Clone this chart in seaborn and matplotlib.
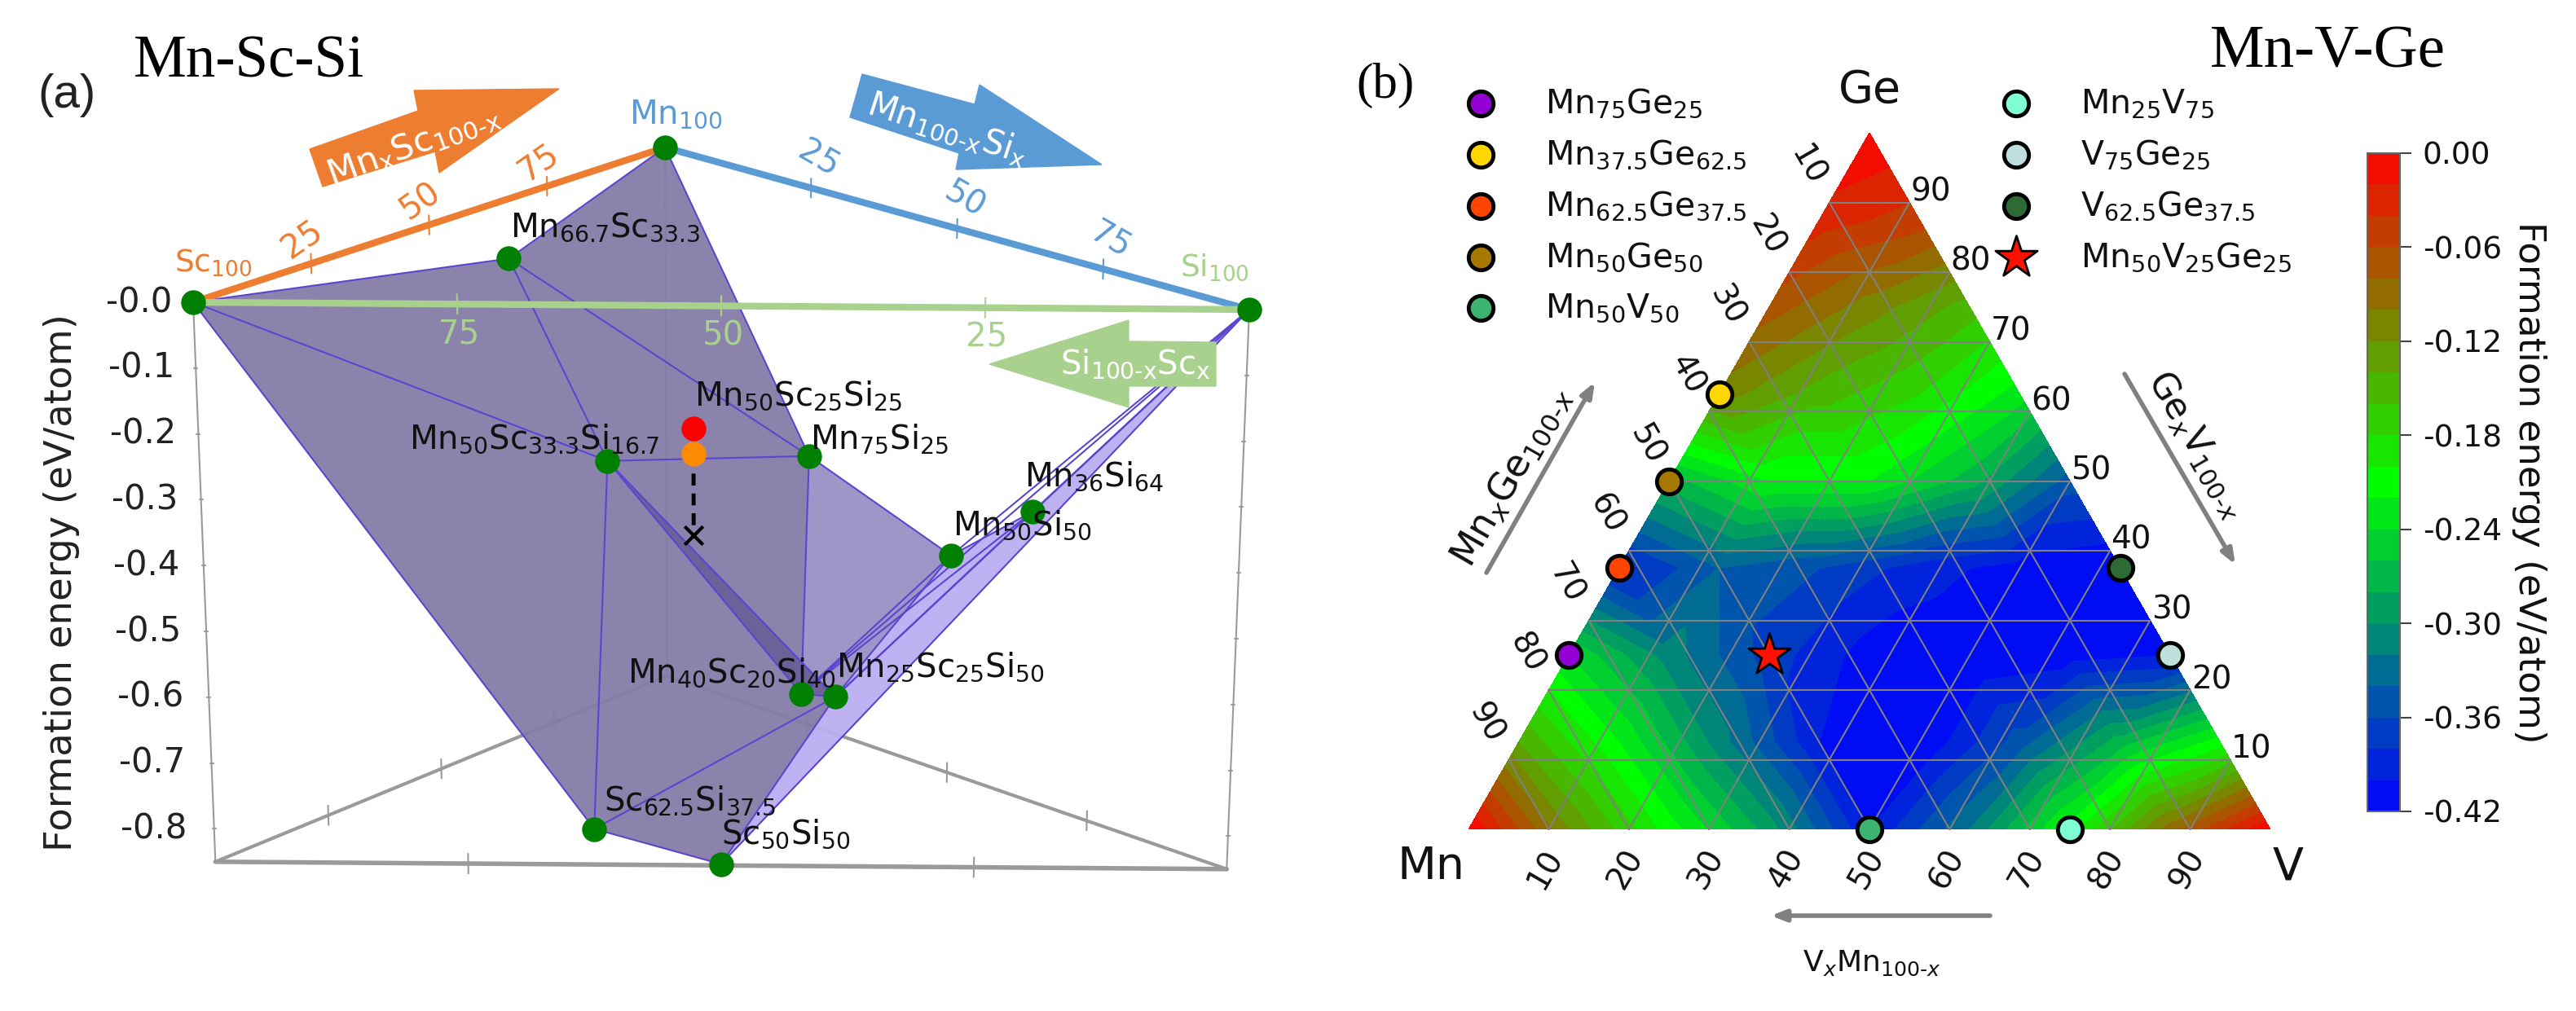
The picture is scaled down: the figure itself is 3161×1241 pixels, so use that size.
#Formation energy of Mn-Sc-Si (convex hull) and Mn-V-Ge (ternary map)
import numpy as np
import pandas as pd
import matplotlib.pyplot as plt
import seaborn as sns
from matplotlib.colors import LinearSegmentedColormap
from matplotlib.patches import Polygon

# panel a: hull points, composition in percent and energy in eV/atom
point_labels = ['', '', '', r'Mn$_{66.7}$Sc$_{33.3}$', r'Mn$_{75}$Si$_{25}$', r'Mn$_{50}$Sc$_{33.3}$Si$_{16.7}$',
                r'Mn$_{36}$Si$_{64}$', r'Mn$_{50}$Si$_{50}$', r'Mn$_{40}$Sc$_{20}$Si$_{40}$',
                r'Mn$_{25}$Sc$_{25}$Si$_{50}$', r'Sc$_{62.5}$Si$_{37.5}$', r'Sc$_{50}$Si$_{50}$']
point_mn = [0, 100, 0, 66.7, 75, 50, 36, 50, 40, 25, 0, 0]
point_sc = [100, 0, 0, 33.3, 0, 33.3, 0, 0, 20, 25, 62.5, 50]
point_si = [0, 0, 100, 0, 25, 16.7, 64, 50, 40, 50, 37.5, 50]
point_e = [0, 0, 0, -0.094, -0.425, -0.367, -0.404, -0.511, -0.70, -0.662, -0.796, -0.848]
# Mn50Sc25Si25: the two DFT results and the hull value below them
quat_comp = [50, 25, 25]
quat_e = [-0.315, -0.355, -0.482]
energy_ticks = [0, -0.1, -0.2, -0.3, -0.4, -0.5, -0.6, -0.7, -0.8]
edge_ticks = [25, 50, 75]

# panel b: energy on the 12.5 % grid, one row per Ge level, V rising left to right
e_ge0 = [0, -0.12, -0.21, -0.29, -0.40, -0.32, -0.21, -0.09, 0]
e_ge12 = [-0.14, -0.22, -0.31, -0.40, -0.42, -0.35, -0.27, -0.21]
e_ge25 = [-0.24, -0.31, -0.37, -0.41, -0.42, -0.41, -0.40]
e_ge37 = [-0.39, -0.34, -0.36, -0.39, -0.41, -0.42]
e_ge50 = [-0.27, -0.22, -0.22, -0.27, -0.35]
e_ge62 = [-0.11, -0.15, -0.18, -0.23]
e_ge75 = [-0.07, -0.11, -0.15]
e_ge87 = [-0.03, -0.05]
e_ge100 = [0]
ternary_ticks = [10, 20, 30, 40, 50, 60, 70, 80, 90]
cbar_ticks = [0, -0.06, -0.12, -0.18, -0.24, -0.30, -0.36, -0.42]

legend_left = [r'Mn$_{75}$Ge$_{25}$', r'Mn$_{37.5}$Ge$_{62.5}$', r'Mn$_{62.5}$Ge$_{37.5}$', r'Mn$_{50}$Ge$_{50}$', r'Mn$_{50}$V$_{50}$']
legend_right = [r'Mn$_{25}$V$_{75}$', r'V$_{75}$Ge$_{25}$', r'V$_{62.5}$Ge$_{37.5}$', r'Mn$_{50}$V$_{25}$Ge$_{25}$']
comp_v = [0, 0, 0, 0, 50, 75, 75, 62.5, 25]
comp_ge = [25, 62.5, 37.5, 50, 0, 0, 25, 37.5, 25]
comp_colors = ['#9400D3', '#FFD700', '#FF4500', '#A67800', '#3CB371', '#7FFFD4', '#BFDFDD', '#2E6B34', '#FF1000']

sns.set_theme(style="white")
plt.rcParams['font.family'] = ['DejaVu Sans']
plt.rcParams['mathtext.default'] = 'regular'
plt.rcParams['axes.unicode_minus'] = False

fig = plt.figure(figsize=(31.61, 12.41), dpi=100)
ax = fig.add_axes([0, 0, 1, 1])


def project(mn, sc, si, e):
    # view of the 3D hull, slight perspective towards the floor
    x = (816 * mn + 237 * sc + 1533 * si) / 100
    y = (181 * mn + 371 * sc + 380 * si) / 100
    x = 880 + (x - 880) * (1 + 0.05 * e)
    return x, y - e * (808 - 45 * mn / 100)


ORANGE = '#ED7D31'
BLUE = '#5B9BD5'
LIGHTGREEN = '#A9D18E'
LINE = '#5B45D0'
FRAME = '#9A9A9A'

# floor and uprights of the box
corner_comps = [(100, 0, 0), (0, 100, 0), (0, 0, 100)]
corners = [project(*c, -0.85) for c in corner_comps]
ax.plot([corners[1][0], corners[0][0]], [corners[1][1], corners[0][1]], color=FRAME, lw=3, zorder=1)
ax.plot([corners[0][0], corners[2][0]], [corners[0][1], corners[2][1]], color=FRAME, lw=3, zorder=1)
ax.plot([corners[1][0], corners[2][0]], [corners[1][1], corners[2][1]], color=FRAME, lw=4, zorder=1)
for c in corner_comps:
    top = project(*c, 0)
    bottom = project(*c, -0.85)
    ax.plot([top[0], bottom[0]], [top[1], bottom[1]], color=FRAME, lw=1.5, zorder=1)
    if c[0] == 0:
        for e in energy_ticks[1:]:
            t = project(*c, e)
            ax.plot([t[0] - 2, t[0] + 2], [t[1], t[1]], color=FRAME, lw=1.5, zorder=1)
for p, q in [(corner_comps[1], corner_comps[0]), (corner_comps[0], corner_comps[2]), (corner_comps[1], corner_comps[2])]:
    for t in edge_ticks:
        c = [(1 - t / 100) * u + t / 100 * v for u, v in zip(p, q)]
        lo = project(*c, -0.835)
        hi = project(*c, -0.865)
        ax.plot([lo[0], hi[0]], [lo[1], hi[1]], color=FRAME, lw=1.5, zorder=1)

px = np.array([project(m, s, i, e) for m, s, i, e in zip(point_mn, point_sc, point_si, point_e)])

faces = [([0, 3, 1, 4, 8, 9, 11, 10], '#857CA8'), ([4, 7, 9, 8], '#9A8FC4'), ([2, 6, 7, 9, 11], '#BBAEF2'), ([5, 8, 9], '#6A6198')]
for idx, col in faces:
    ax.add_patch(Polygon(px[idx], closed=True, facecolor=col, edgecolor='none', alpha=0.95, zorder=2))
edges = [(0, 3), (3, 1), (1, 4), (0, 5), (3, 5), (3, 4), (5, 4), (5, 8), (5, 9), (5, 10), (4, 8), (4, 7), (7, 9), (7, 8),
         (6, 7), (6, 8), (6, 9), (2, 6), (2, 9), (2, 11), (0, 10), (10, 11), (10, 9), (9, 11), (8, 9), (2, 7), (2, 8)]
for a, b in edges:
    ax.plot(px[[a, b], 0], px[[a, b], 1], color=LINE, lw=1.5, zorder=3)

# edges of the composition triangle at zero energy
sides = [((0, 100, 0), (100, 0, 0), ORANGE), ((100, 0, 0), (0, 0, 100), BLUE), ((0, 0, 100), (0, 100, 0), LIGHTGREEN)]
for p, q, col in sides:
    a = project(*p, 0)
    b = project(*q, 0)
    ax.plot([a[0], b[0]], [a[1], b[1]], color=col, lw=6, solid_capstyle='butt', zorder=4)
    for t in edge_ticks:
        c = [(1 - t / 100) * u + t / 100 * v for u, v in zip(p, q)]
        lo = project(*c, 0.015)
        hi = project(*c, -0.015)
        ax.plot([lo[0], hi[0]], [lo[1], hi[1]], color=col, lw=1.5, zorder=4)

for t in edge_ticks:
    c = project(t, 100 - t, 0, 0)
    ax.text(c[0] - 10, c[1] - 29, str(t), color=ORANGE, fontsize=29, rotation=35, ha='center', va='center')
    c = project(100 - t, 0, t, 0)
    ax.text(c[0] + 9, c[1] - 35, str(t), color=BLUE, fontsize=29, rotation=-30, ha='center', va='center')
    c = project(0, t, 100 - t, 0)
    ax.text(c[0] + 2, c[1] + 37, str(t), color=LIGHTGREEN, fontsize=29, ha='center', va='center')

ax.text(262, 322, r'Sc$_{100}$', color=ORANGE, fontsize=27, ha='center', va='center')
ax.text(829, 140, r'Mn$_{100}$', color=BLUE, fontsize=29, ha='center', va='center')
ax.text(1490, 328, r'Si$_{100}$', color=LIGHTGREEN, fontsize=27, ha='center', va='center')

# big arrows
orange_arrow = [(380, 183), (513, 136), (508, 111), (686, 109), (539, 212), (534, 186), (396, 229)]
blue_arrow = [(1058, 91), (1196, 128), (1202, 104), (1352, 202), (1173, 208), (1177, 188), (1043, 144)]
green_arrow = [(1214, 447), (1385, 393), (1385, 419), (1492, 420), (1492, 474), (1385, 474), (1385, 500)]
ax.add_patch(Polygon(orange_arrow, closed=True, color=ORANGE, zorder=2))
ax.add_patch(Polygon(blue_arrow, closed=True, color=BLUE, zorder=2))
ax.add_patch(Polygon(green_arrow, closed=True, color=LIGHTGREEN, zorder=5))
ax.text(507, 178, r'Mn$_{x}$Sc$_{100\text{-}x}$', color='white', fontsize=31, rotation=20, ha='center', va='center', zorder=6)
ax.text(1163, 158, r'Mn$_{100\text{-}x}$Si$_{x}$', color='white', fontsize=30, rotation=-18, ha='center', va='center', zorder=6)
ax.text(1393, 447, r'Si$_{100\text{-}x}$Sc$_{x}$', color='white', fontsize=29, ha='center', va='center', zorder=6)

# energy axis labels
for e in energy_ticks:
    c = project(0, 100, 0, e)
    ax.text(c[0] - 66 + e * 10, c[1], '%.1f' % e if e else '-0.0', color='#222222', fontsize=30, ha='center', va='center')
ax.text(76, 715, 'Formation energy (eV/atom)', color='#222222', fontsize=33.5, rotation=90, ha='center', va='center')

sns.scatterplot(x=px[:, 0], y=px[:, 1], color='#008000', s=480, linewidth=0, ax=ax, zorder=7)

label_off = [(0, 0), (0, 0), (0, 0), (118, -38), (86, -21), (-90, -27), (76, -43), (87, -37), (-85, -26), (129, -36), (117, -35), (79, -37)]
for (x, y), txt, (dx, dy) in zip(px, point_labels, label_off):
    if txt:
        ax.text(x + dx, y + dy, txt, color='#111111', fontsize=29, ha='center', va='center', zorder=8)

q = np.array([project(*quat_comp, e) for e in quat_e])
ax.plot(q[1:, 0], q[1:, 1], color='black', lw=3.5, ls=(0, (3, 2)), zorder=6)
sns.scatterplot(x=q[2:, 0], y=q[2:, 1], color='black', marker='x', s=260, linewidth=3, ax=ax, zorder=7)
sns.scatterplot(x=q[:1, 0], y=q[:1, 1], color='#FF0000', s=480, linewidth=0, ax=ax, zorder=7)
sns.scatterplot(x=q[1:2, 0], y=q[1:2, 1], color='#FF8C00', s=480, linewidth=0, ax=ax, zorder=7)
ax.text(980, 486, r'Mn$_{50}$Sc$_{25}$Si$_{25}$', color='#111111', fontsize=29, ha='center', va='center', zorder=8)

ax.text(306, 77, 'Mn-Sc-Si', family='Liberation Serif', color='black', fontsize=52.5, ha='center', va='center')
ax.text(82, 117, '(a)', family='Liberation Sans', color='#222222', fontsize=42, ha='center', va='center')
ax.text(1700, 105, '(b)', family='Liberation Serif', color='black', fontsize=44, ha='center', va='center')
ax.text(2856, 65, 'Mn-V-Ge', family='Liberation Serif', color='black', fontsize=54, ha='center', va='center')


# panel b
def tern(v, ge):
    return 1802 + 984 * (np.asarray(v) + np.asarray(ge) / 2) / 100, 1018 - 855 * np.asarray(ge) / 100


rows = [e_ge0, e_ge12, e_ge25, e_ge37, e_ge50, e_ge62, e_ge75, e_ge87, e_ge100]
nodes = pd.DataFrame([{'v': 12.5 * i, 'ge': 12.5 * j, 'e': val} for j, row in enumerate(rows) for i, val in enumerate(row)])
tx, ty = tern(nodes['v'].values, nodes['ge'].values)
cmap = LinearSegmentedColormap.from_list('rgb_energy', ['#0000FF', '#00FF00', '#FF0000'])
cs = ax.tricontourf(tx, ty, nodes['e'].values, levels=np.linspace(-0.42, 0, 22), cmap=cmap, zorder=2)

for t in ternary_ticks:
    # Ge constant, V constant, Mn constant
    for a, b in [((0, t), (100 - t, t)), ((t, 0), (t, 100 - t)), ((100 - t, 0), (0, 100 - t))]:
        gx, gy = tern([a[0], b[0]], [a[1], b[1]])
        ax.plot(gx, gy, color='#808080', lw=1.5, zorder=3)
    rx, ry = tern(100 - t, t)
    ax.text(rx + 26, ry - 13, str(t), color='#111111', fontsize=28, ha='center', va='center')
    lx, ly = tern(0, 100 - t)
    ax.text(lx - 27, ly - 45, str(t), color='#111111', fontsize=28, rotation=-60, ha='center', va='center')
    bx, by = tern(t, 0)
    ax.text(bx - 4, by + 49, str(t), color='#111111', fontsize=28, rotation=60, ha='center', va='center')

ax.text(2294, 111, 'Ge', color='#111111', fontsize=40, ha='center', va='center')
ax.text(1756, 1064, 'Mn', color='#111111', fontsize=40, ha='center', va='center')
ax.text(2808, 1064, 'V', color='#111111', fontsize=40, ha='center', va='center')

mx, my = tern(comp_v, comp_ge)
for x, y, col in zip(mx[:-1], my[:-1], comp_colors[:-1]):
    sns.scatterplot(x=[x], y=[y], color=col, s=480, edgecolor='black', linewidth=3.5, ax=ax, zorder=6)
sns.scatterplot(x=mx[-1:], y=my[-1:], color=comp_colors[-1], marker='*', s=1500, edgecolor='black', linewidth=2, ax=ax, zorder=6)

# legend columns
left_idx = [0, 1, 2, 3, 4]
right_idx = [5, 6, 7, 8]
row_y = [127, 190, 253, 316, 378]
for i, y, txt in zip(left_idx, row_y, legend_left):
    sns.scatterplot(x=[1817], y=[y], color=comp_colors[i], s=480, edgecolor='black', linewidth=3.5, ax=ax, zorder=6)
    ax.text(1896, y, txt, color='#111111', fontsize=29.5, ha='left', va='center')
for i, y, txt in zip(right_idx, row_y, legend_right):
    if i == 8:
        sns.scatterplot(x=[2474], y=[y], color=comp_colors[i], marker='*', s=1500, edgecolor='black', linewidth=2, ax=ax, zorder=6)
    else:
        sns.scatterplot(x=[2474], y=[y], color=comp_colors[i], s=480, edgecolor='black', linewidth=3.5, ax=ax, zorder=6)
    ax.text(2553, y, txt, color='#111111', fontsize=29.5, ha='left', va='center')

# direction arrows
for start, end in [((1824, 703), (1957, 469)), ((2607, 459), (2743, 693)), ((2442, 1124), (2173, 1124))]:
    ax.annotate('', xy=end, xytext=start, arrowprops=dict(arrowstyle='-|>,head_width=0.35,head_length=0.9', color='#808080', lw=4, shrinkA=0, shrinkB=0))
ax.text(1855, 585, r'Mn$_{\mathit{x}}$Ge$_{100\text{-}\mathit{x}}$', color='#111111', fontsize=33, rotation=60, ha='center', va='center')
ax.text(2696, 546, r'Ge$_{\mathit{x}}$V$_{100\text{-}\mathit{x}}$', color='#111111', fontsize=31.5, rotation=-60, ha='center', va='center')
ax.text(2297, 1182, r'V$_{\mathit{x}}$Mn$_{100\text{-}\mathit{x}}$', color='#111111', fontsize=26, ha='center', va='center')

ax.set_xlim(0, 3161)
ax.set_ylim(1241, 0)
ax.axis('off')

# colour bar
cax = fig.add_axes([2905 / 3161, 1 - 996 / 1241, 40 / 3161, 808 / 1241])
cb = fig.colorbar(cs, cax=cax, ticks=cbar_ticks)
cb.ax.set_yticklabels(['%.2f' % t if t else '0.00' for t in cbar_ticks])
cb.ax.tick_params(axis='y', right=True, length=10, width=1.5, color='#444444', labelsize=27, labelcolor='#111111', pad=10)
cb.outline.set_edgecolor('#666666')
cb.outline.set_linewidth(1.5)
cb.set_label('Formation energy (eV/atom)', fontsize=32.5, rotation=270, labelpad=40, color='#111111')

fig.savefig('out.png', dpi=100)
